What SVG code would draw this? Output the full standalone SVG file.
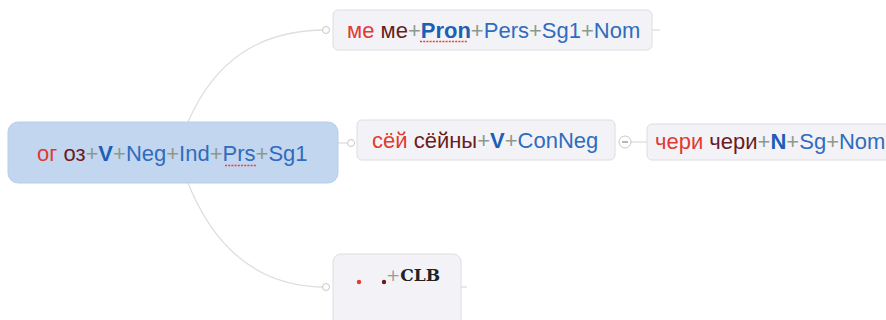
<svg xmlns="http://www.w3.org/2000/svg" width="886" height="320" viewBox="0 0 886 320">
<defs>
<style>
.node{fill:#f3f3f7;stroke:#dcdce2;stroke-width:1}
.root{fill:#c3d6f0;stroke:#b9cde9;stroke-width:1}
.conn{fill:none;stroke:#dedede;stroke-width:1.3}
.port{fill:#fff;stroke:#c8c8c8;stroke-width:1}
.t{font-family:"Liberation Sans",Arial,sans-serif;font-size:22px}
.r{fill:#e03a32}
.d{fill:#6a1c1e}
.p{fill:#8c9a8c}
.b{fill:#1d5fb6;font-weight:bold}
.g{fill:#2f6cbd}
.sq{fill:none;stroke:#e8403a;stroke-width:1.4;stroke-dasharray:2 1.2}
</style>
</defs>
<g id="connectors">
<path class="conn" d="M188,122 C215,60 260,30 326,30"/>
<path class="conn" d="M188,183 C215,250 260,287 326,287"/>
<path class="conn" d="M338,143 L350,143"/>
<path class="conn" d="M631,142 L647,142"/>
<path class="conn" d="M652,30 L660,30"/>
<path class="conn" d="M461,287 L467,287"/>
<circle class="port" cx="326" cy="30" r="3.5"/>
<circle class="port" cx="326" cy="287" r="3.5"/>
<circle class="port" cx="351" cy="143" r="3.5"/>
<circle class="port" cx="625" cy="142" r="6"/>
<path d="M622,142 L628,142" stroke="#888" stroke-width="1.2"/>
</g>
<g id="root">
<rect class="root" x="8" y="122" width="330" height="61" rx="10"/>
<text class="t" x="37" y="161"><tspan class="r">ог</tspan> <tspan class="d">оз</tspan><tspan class="p">+</tspan><tspan class="b">V</tspan><tspan class="p">+</tspan><tspan class="g">Neg</tspan><tspan class="p">+</tspan><tspan class="g">Ind</tspan><tspan class="p">+</tspan><tspan class="g">Prs</tspan><tspan class="p">+</tspan><tspan class="g">Sg1</tspan></text>
<path class="sq" d="M225,165.5 L257,165.5"/>
</g>
<g id="n-me">
<rect class="node" x="333" y="10" width="319" height="40" rx="5"/>
<text class="t" x="347" y="38" font-size="21.5"><tspan class="r">ме</tspan> <tspan class="d">ме</tspan><tspan class="p">+</tspan><tspan class="b">Pron</tspan><tspan class="p">+</tspan><tspan class="g">Pers</tspan><tspan class="p">+</tspan><tspan class="g">Sg1</tspan><tspan class="p">+</tspan><tspan class="g">Nom</tspan></text>
<path class="sq" d="M420,41.5 L468,41.5"/>
</g>
<g id="n-sey">
<rect class="node" x="357" y="120" width="258" height="40" rx="5"/>
<text class="t" x="372" y="148"><tspan class="r">сёй</tspan> <tspan class="d">сёйны</tspan><tspan class="p">+</tspan><tspan class="b">V</tspan><tspan class="p">+</tspan><tspan class="g">ConNeg</tspan></text>
</g>
<g id="n-cheri">
<rect class="node" x="647" y="124" width="250" height="36" rx="5"/>
<text class="t" x="655" y="149"><tspan class="r">чери</tspan> <tspan class="d">чери</tspan><tspan class="p">+</tspan><tspan class="b">N</tspan><tspan class="p">+</tspan><tspan class="g">Sg</tspan><tspan class="p">+</tspan><tspan class="g">Nom</tspan></text>
</g>
<g id="n-clb">
<rect class="node" x="333" y="254" width="128" height="75" rx="8"/>
<circle cx="359" cy="282" r="2.2" fill="#e03a32"/>
<circle cx="384" cy="282" r="2.2" fill="#6a1c1e"/>
<text x="386" y="281" font-family="'DejaVu Serif','Liberation Serif',serif" font-size="17"><tspan fill="#999" font-weight="normal">+</tspan><tspan font-weight="bold" fill="#222">CLB</tspan></text>
</g>
</svg>
